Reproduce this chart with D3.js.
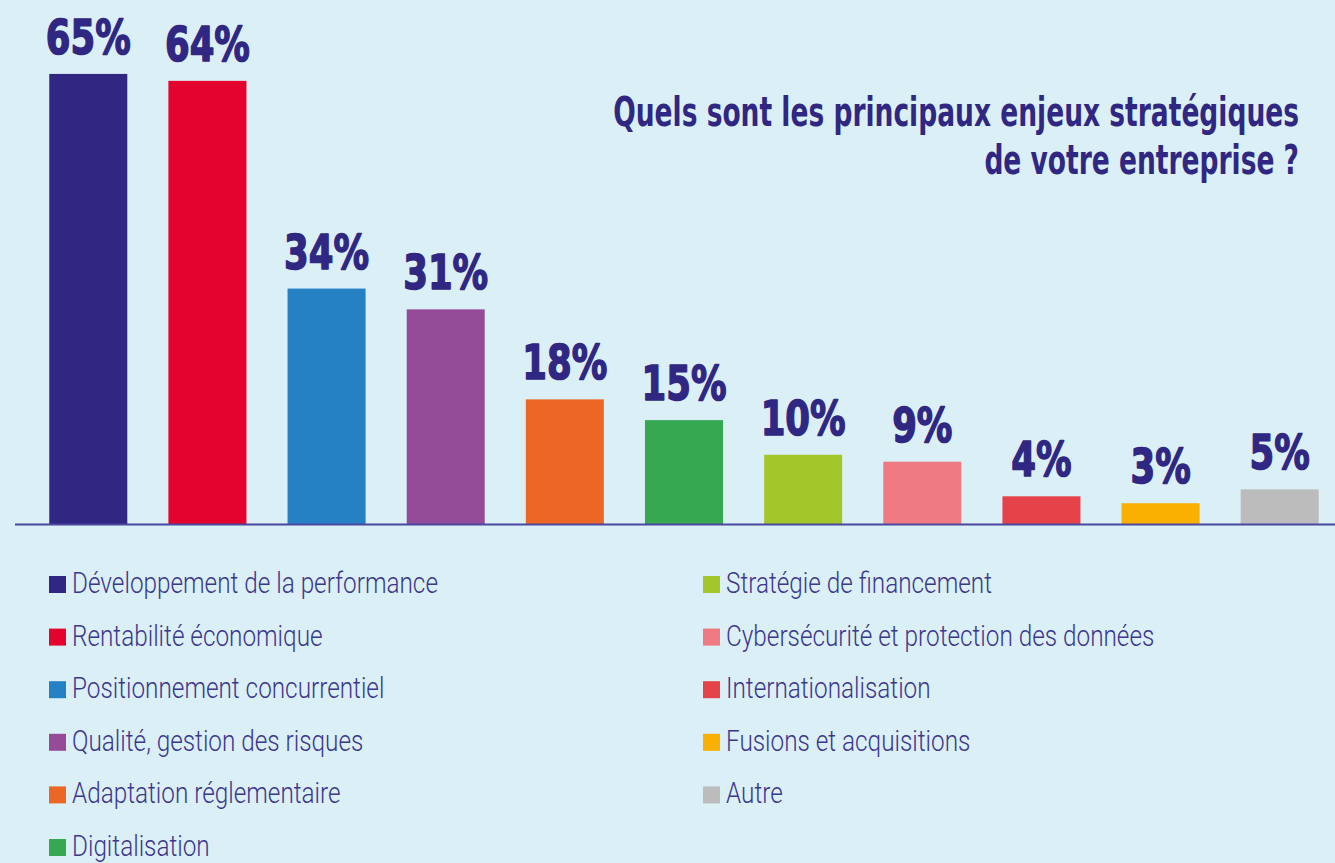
<!DOCTYPE html>
<html>
<head>
<meta charset="utf-8">
<script src="https://cdn.jsdelivr.net/npm/d3@7"></script>
<style>
  body { margin: 0; background: #dbeff6; }
  svg { display: block; }
</style>
</head>
<body>
<div id="chart"></div>
<script>
// data
const categories = [
  'Développement de la performance',
  'Rentabilité économique',
  'Positionnement concurrentiel',
  'Qualité, gestion des risques',
  'Adaptation réglementaire',
  'Digitalisation',
  'Stratégie de financement',
  'Cybersécurité et protection des données',
  'Internationalisation',
  'Fusions et acquisitions',
  'Autre'
];
const values = [65, 64, 34, 31, 18, 15, 10, 9, 4, 3, 5];
const colors = ['#312783', '#e4032e', '#2581c4', '#944b98', '#ec6725', '#36a852',
                '#a3c62a', '#f07a84', '#e6424a', '#fab000', '#bcbcbc'];
const titleLines = ['Quels sont les principaux enjeux stratégiques', 'de votre entreprise ?'];

const W = 1335, H = 863;
const baseY = 524;
const navy = '#302782';

const svg = d3.select('#chart').append('svg')
    .attr('width', W)
    .attr('height', H);

svg.append('rect').attr('width', W).attr('height', H).attr('fill', '#dbeff6');

const x = d3.scaleBand()
    .domain(categories)
    .range([29, 1339])
    .paddingInner(0.345)
    .paddingOuter(0.17);

const y = d3.scaleLinear()
    .domain([0, 66])
    .range([baseY, 67]);

svg.selectAll('.bar')
    .data(values)
    .enter().append('rect')
    .attr('class', 'bar')
    .attr('x', (d, i) => x(categories[i]))
    .attr('y', d => y(d))
    .attr('width', x.bandwidth())
    .attr('height', d => baseY - y(d))
    .attr('fill', (d, i) => colors[i]);

// axis line
svg.append('line')
    .attr('x1', 15).attr('x2', W)
    .attr('y1', baseY + 0.5).attr('y2', baseY + 0.5)
    .attr('stroke', '#4b479f')
    .attr('stroke-width', 2);

// value labels, bold and squeezed to look condensed
const boldFont = '"DejaVu Sans", sans-serif';
const labels = svg.selectAll('.val')
    .data(values)
    .enter().append('text')
    .attr('class', 'val')
    .attr('text-anchor', 'middle')
    .attr('font-family', boldFont)
    .attr('font-weight', 'bold')
    .attr('font-size', 48)
    .attr('fill', navy)
    .attr('stroke', navy)
    .attr('stroke-width', 1.6)
    .attr('stroke-linejoin', 'round')
    .text(d => d + '%');
const sxLabel = 85 / labels.node().getComputedTextLength();
labels.attr('transform', (d, i) =>
    `translate(${x(categories[i]) + x.bandwidth() / 2},${y(d) - 20}) scale(${sxLabel},1)`);

// title, right aligned
const title = svg.selectAll('.title')
    .data(titleLines)
    .enter().append('text')
    .attr('class', 'title')
    .attr('text-anchor', 'end')
    .attr('font-family', boldFont)
    .attr('font-weight', 'bold')
    .attr('font-size', 40)
    .attr('fill', navy)
    .text(d => d);
const sxTitle = 686 / title.node().getComputedTextLength();
title.attr('transform', (d, i) => `translate(1299,${126 + i * 48}) scale(${sxTitle},1)`);

// legend, two columns
const legend = svg.selectAll('.legend')
    .data(categories)
    .enter().append('g')
    .attr('class', 'legend')
    .attr('transform', (d, i) => {
        const col = i < 6 ? 0 : 1;
        const row = i < 6 ? i : i - 6;
        return `translate(${col === 0 ? 49 : 703},${593 + row * 52.6})`;
    });

legend.append('rect')
    .attr('x', 0).attr('y', -17)
    .attr('width', 17).attr('height', 17)
    .attr('fill', (d, i) => colors[i]);

const legText = legend.append('text')
    .attr('font-family', 'Roboto, "DejaVu Sans", sans-serif')
    .attr('font-weight', 300)
    .attr('font-size', 30)
    .attr('fill', '#3b378e')
    .text(d => d);
const sxLeg = 366 / legText.node().getComputedTextLength();
legText.attr('transform', `translate(23,0) scale(${sxLeg},1)`);
</script>
</body>
</html>
